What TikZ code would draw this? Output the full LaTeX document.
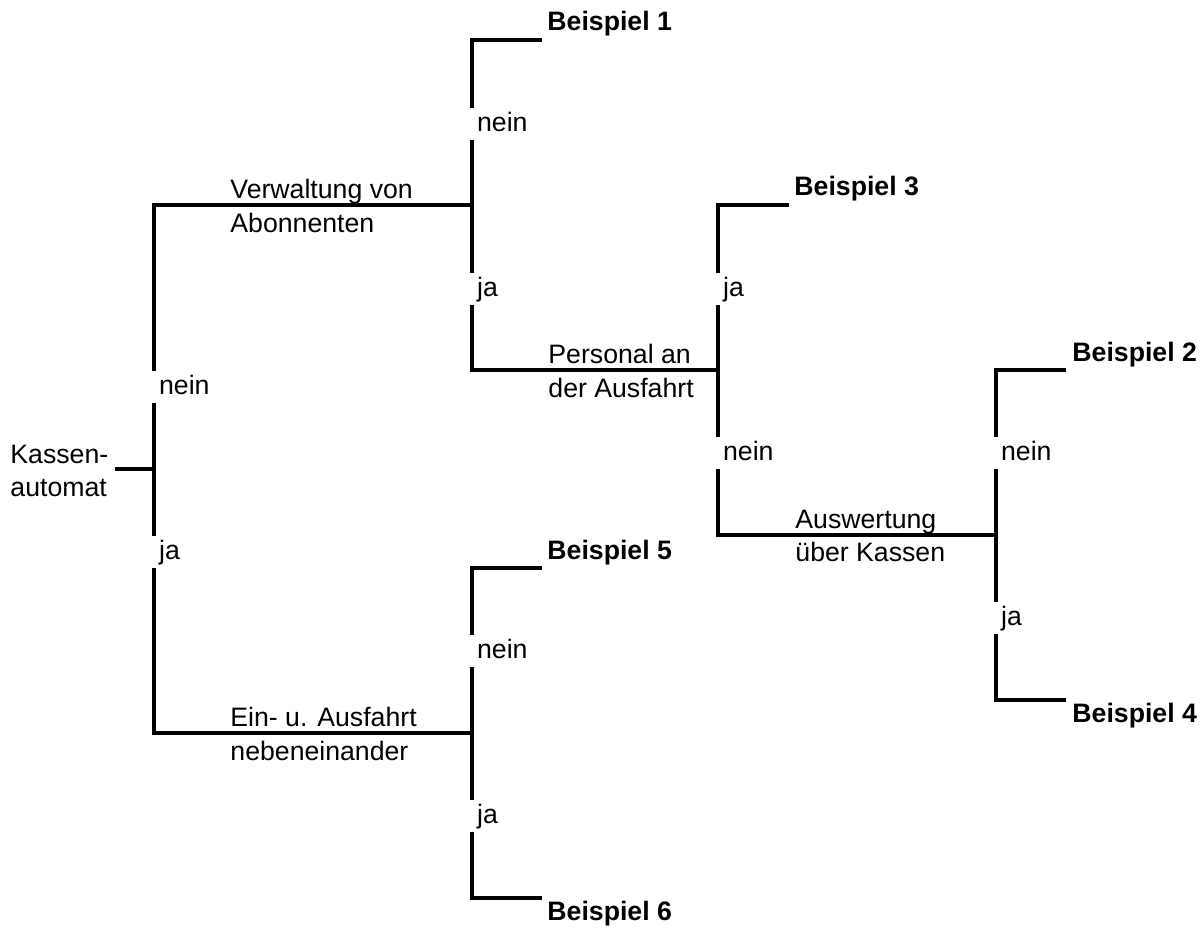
\documentclass[tikz,border=0pt]{standalone}
\usepackage{fontspec}
\setmainfont{Liberation Sans}
\usetikzlibrary{positioning}
\begin{document}
\begin{tikzpicture}[x=0.45pt,y=-0.45pt,
  ast/.style={line width=1.4pt},
  frage/.style={anchor=west,align=left,inner sep=0pt,font=\fontsize{12}{15}\selectfont},
  antwort/.style={anchor=west,fill=white,inner xsep=3pt,inner ysep=1.5pt,text height=9pt,text depth=2.5pt,font=\fontsize{12}{15}\selectfont},
  ergebnis/.style={anchor=west,inner sep=0pt,font=\fontsize{12}{15}\selectfont\bfseries}]
\useasboundingbox (0,0) rectangle (1203,929);
% Verzweigungen
\coordinate (s0) at (115,469);
\coordinate (k0) at (154,469);
\coordinate (v0) at (472,205);
\coordinate (p0) at (718,370);
\coordinate (a0) at (996,535);
\coordinate (e0) at (472,733);
% Enden
\coordinate (b1) at (542,40);
\coordinate (b3) at (789,205);
\coordinate (b2) at (1066,370);
\coordinate (b4) at (1066,700);
\coordinate (b5) at (542,568);
\coordinate (b6) at (542,898);
% Aeste
\draw[ast] (s0) -- (k0);
\draw[ast] (v0) -| (k0) |- (e0);
\draw[ast] (b1) -| (v0) |- (p0);
\draw[ast] (b3) -| (p0) |- (a0);
\draw[ast] (b2) -| (a0) |- (b4);
\draw[ast] (b5) -| (e0) |- (b6);
% Fragen
\node[frage] (kasse) at (10,471) {Kassen-\\automat};
\node[frage] (abo) at (230,206) {Verwaltung von\\Abonnenten};
\node[frage] (pers) at (548,371) {Personal an\\der Ausfahrt};
\node[frage] (ausw) at (795,536) {Auswertung\\über Kassen};
\node[frage] (einaus) at (230,734) {Ein- u. Ausfahrt\\nebeneinander};
% Antworten
\node[antwort] (kn) at (152,387) {nein};
\node[antwort] (kj) at (152,552) {ja};
\node[antwort] (vn) at (470,124) {nein};
\node[antwort] (vj) at (470,289) {ja};
\node[antwort] (pj) at (716,289) {ja};
\node[antwort] (pn) at (716,453) {nein};
\node[antwort] (an) at (994,453) {nein};
\node[antwort] (aj) at (994,618) {ja};
\node[antwort] (en) at (470,651) {nein};
\node[antwort] (ej) at (470,816) {ja};
% Beispiele
\node[ergebnis] (bsp1) at (547,24) {Beispiel 1};
\node[ergebnis] (bsp3) at (794,189) {Beispiel 3};
\node[ergebnis] (bsp2) at (1072,355) {Beispiel 2};
\node[ergebnis] (bsp4) at (1072,716) {Beispiel 4};
\node[ergebnis] (bsp5) at (547,553) {Beispiel 5};
\node[ergebnis] (bsp6) at (547,914) {Beispiel 6};
\end{tikzpicture}
\end{document}
